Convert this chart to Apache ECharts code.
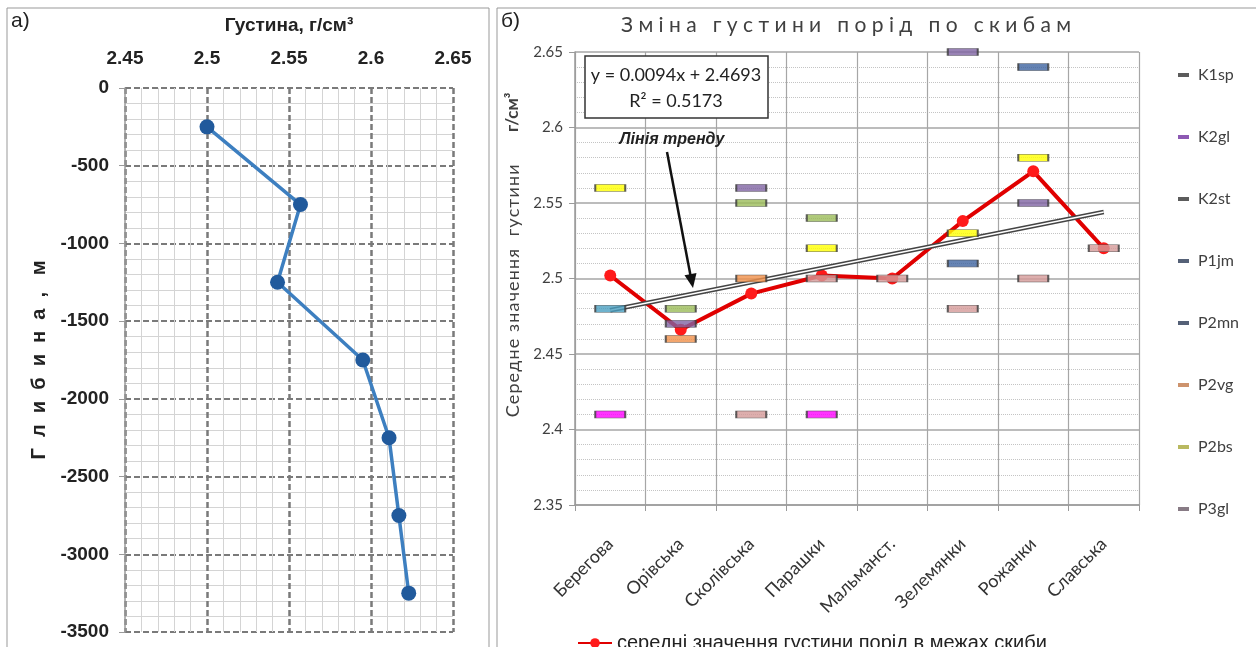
<!DOCTYPE html>
<html><head><meta charset="utf-8">
<script src="https://cdn.jsdelivr.net/npm/echarts@6/dist/echarts.min.js"></script>
<style>html,body{margin:0;padding:0;background:#fff}#c{width:1256px;height:647px}</style>
</head><body><div id="c"></div>
<script>
// ---- panel a) : density vs depth ----
const depths = [-250, -750, -1250, -1750, -2250, -2750, -3250];
const densities = [2.5, 2.557, 2.543, 2.595, 2.611, 2.617, 2.623];

// ---- panel b) : density by skyba ----
const categories = ['Берегова','Орівська','Сколівська','Парашки','Мальманст.','Зелемянки','Рожанки','Славська'];
const formationNames = ['K1sp','K2gl','K2st','P1jm','P2mn','P2vg','P2bs','P3gl'];
const K1sp = [2.41, '-', '-', 2.41, '-', '-', '-', '-'];
const K2gl = ['-', 2.47, 2.56, '-', '-', 2.65, 2.55, '-'];
const K2st = ['-', 2.48, 2.55, 2.54, '-', '-', '-', '-'];
const P1jm = ['-', '-', '-', '-', '-', 2.51, 2.64, '-'];
const P2mn = [2.48, '-', '-', '-', '-', '-', '-', '-'];
const P2vg = ['-', 2.46, 2.50, '-', '-', '-', '-', '-'];
const P2bs = [2.56, '-', '-', 2.52, '-', 2.53, 2.58, '-'];
const P3gl = ['-', '-', 2.41, 2.50, 2.50, 2.48, 2.50, 2.52];
const meanDensity = [2.502, 2.466, 2.49, 2.502, 2.50, 2.538, 2.571, 2.52];
const trendStart = 2.479, trendEnd = 2.544;
const meanName = 'середні значення густини порід в межах скиби';

const formationData = [K1sp, K2gl, K2st, P1jm, P2mn, P2vg, P2bs, P3gl];
const formationFill = ['#ff00ff','#8064a2','#9bbb59','#3f64a0','#4a9fc0','#f0904a','#ffff00','#d49a98'];
const legendIcon = ['#333333','#7030a0','#333333','#2a3a55','#2a3a55','#c07848','#a8a838','#6a5a66'];

const spaced = s => s.split('').join('\u200A');

const chart = echarts.init(document.getElementById('c'));
const sans = 'Liberation Sans';
const cal = 'Lato';

const series = [
  {
    name: 'depth', type: 'line', xAxisIndex: 0, yAxisIndex: 0,
    data: densities.map((d, i) => [d, depths[i]]),
    lineStyle: { color: '#3d7fc0', width: 3.5 },
    itemStyle: { color: '#215a9c' },
    symbol: 'circle', symbolSize: 15, z: 5
  },
  {
    name: meanName, type: 'line', xAxisIndex: 1, yAxisIndex: 1,
    data: meanDensity,
    lineStyle: { color: '#e00000', width: 4 },
    itemStyle: { color: '#ff1a1a' },
    symbol: 'circle', symbolSize: 12, z: 3
  },
  {
    name: 'trendOuter', type: 'line', xAxisIndex: 1, yAxisIndex: 1,
    data: [[0, trendStart], [7, trendEnd]],
    lineStyle: { color: '#444', width: 4.5 }, symbol: 'none', z: 4, silent: true
  },
  {
    name: 'trendInner', type: 'line', xAxisIndex: 1, yAxisIndex: 1,
    data: [[0, trendStart], [7, trendEnd]],
    lineStyle: { color: '#fff', width: 1.6 }, symbol: 'none', z: 4, silent: true
  }
];
formationNames.forEach((n, i) => {
  series.push({
    name: n, type: 'scatter', xAxisIndex: 1, yAxisIndex: 1,
    data: formationData[i],
    symbol: 'rect', symbolSize: [30, 7],
    itemStyle: { color: formationFill[i], borderColor: '#3a3a3a', borderWidth: 1 },
    z: 6
  });
});

chart.setOption({
  animation: false,
  grid: [
    { left: 125, top: 88, width: 328, height: 544 },
    { left: 575, top: 52, width: 564, height: 453 }
  ],
  xAxis: [
    {
      gridIndex: 0, type: 'value', position: 'top', min: 2.45, max: 2.65, interval: 0.05,
      name: 'Густина, г/см³', nameLocation: 'middle', nameGap: 53,
      nameTextStyle: { fontFamily: sans, fontWeight: 'bold', fontSize: 19, color: '#222' },
      axisLine: { show: false }, axisTick: { show: false },
      axisLabel: { fontFamily: sans, fontWeight: 'bold', fontSize: 19, color: '#222', margin: 20 },
      splitLine: { show: true, lineStyle: { color: '#7a7a7a', type: [6, 3], width: 2.5 } },
      minorTick: { show: false, splitNumber: 5 },
      minorSplitLine: { show: true, lineStyle: { color: '#d4d4d4', width: 1 } }
    },
    {
      gridIndex: 1, type: 'category', data: categories, boundaryGap: true,
      axisLine: { lineStyle: { color: '#9a9a9a', width: 1.5 } },
      axisTick: { show: true, length: 6, lineStyle: { color: '#9a9a9a' } },
      axisLabel: { rotate: 45, fontFamily: cal, fontSize: 18, color: '#333', margin: 36, interval: 0 },
      splitLine: { show: true, interval: 0, lineStyle: { color: '#a6a6a6', width: 1.2 } }
    }
  ],
  yAxis: [
    {
      gridIndex: 0, type: 'value', min: -3500, max: 0, interval: 500,
      name: 'Г  л  и  б  и  н  а  ,   м', nameLocation: 'middle', nameGap: 76, nameRotate: 90,
      nameTextStyle: { fontFamily: sans, fontWeight: 'bold', fontSize: 20, color: '#222' },
      axisLine: { show: true, lineStyle: { color: '#9a9a9a', width: 1.5 } },
      axisTick: { show: true, length: 6, lineStyle: { color: '#9a9a9a' } },
      axisLabel: { fontFamily: sans, fontWeight: 'bold', fontSize: 19, color: '#222', margin: 16,
        formatter: v => String(v) },
      splitLine: { show: true, lineStyle: { color: '#7a7a7a', type: [6, 3], width: 2 } },
      minorTick: { show: false, splitNumber: 5 },
      minorSplitLine: { show: true, lineStyle: { color: '#d4d4d4', width: 1 } }
    },
    {
      gridIndex: 1, type: 'value', min: 2.35, max: 2.65, interval: 0.05,
      axisLine: { show: true, lineStyle: { color: '#9a9a9a', width: 1.5 } },
      axisTick: { show: true, length: 6, lineStyle: { color: '#9a9a9a' } },
      axisLabel: { fontFamily: cal, fontSize: 15, color: '#404040', margin: 12 },
      splitLine: { show: true, lineStyle: { color: '#a6a6a6', width: 1.5 } },
      minorTick: { show: false, splitNumber: 5 },
      minorSplitLine: { show: true, lineStyle: { color: '#c4c4c4', type: 'dotted', width: 1 } }
    }
  ],
  legend: [
    {
      orient: 'vertical', left: 1173, top: 62, itemGap: 46, itemWidth: 11, itemHeight: 4,
      icon: 'rect',
      textStyle: { fontFamily: cal, fontSize: 16, color: '#404040', padding: [0, 0, 0, 4] },
      data: formationNames.map((n, i) => ({ name: n, itemStyle: { color: legendIcon[i], borderWidth: 0 } }))
    },
    {
      left: 572, top: 628, itemWidth: 34, itemHeight: 12,
      textStyle: { fontFamily: sans, fontSize: 20, color: '#222' },
      data: [meanName]
    }
  ],
  graphic: [
    { type: 'rect', shape: { x: 7, y: 8, width: 482, height: 645 }, style: { fill: 'none', stroke: '#999', lineWidth: 1 }, z: 100 },
    { type: 'rect', shape: { x: 497, y: 8, width: 762, height: 645 }, style: { fill: 'none', stroke: '#999', lineWidth: 1 }, z: 100 },
    { type: 'text', x: 11, y: 11, style: { text: 'а)', font: '21px "Liberation Sans"', fill: '#222' }, z: 100 },
    { type: 'text', x: 501, y: 11, style: { text: 'б)', font: '21px "Liberation Sans"', fill: '#222' }, z: 100 },
    { type: 'text', x: 846, y: 25, style: { text: 'З м і н а   г у с т и н и   п о р і д   п о   с к и б а м', font: '21px "Lato"', fill: '#404040', textAlign: 'center', textVerticalAlign: 'middle' }, z: 100 },
    { type: 'text', x: 513, y: 255, rotation: Math.PI / 2,
      style: { text: spaced('Середне значення  густини') + '       {b|г/см³}', font: '18px "Lato"', fill: '#404040', textAlign: 'center', textVerticalAlign: 'middle',
        rich: { b: { fontWeight: 'bold', fontSize: 17, fontFamily: 'Lato', fill: '#404040' } } }, z: 100 },
    { type: 'rect', shape: { x: 585, y: 56, width: 183, height: 62 }, style: { fill: '#fff', stroke: '#333', lineWidth: 1.5 }, z: 90 },
    { type: 'text', x: 676, y: 75, style: { text: 'y = 0.0094x + 2.4693', font: '18px "Lato"', fill: '#222', textAlign: 'center', textVerticalAlign: 'middle' }, z: 100 },
    { type: 'text', x: 676, y: 101, style: { text: 'R² = 0.5173', font: '18px "Lato"', fill: '#222', textAlign: 'center', textVerticalAlign: 'middle' }, z: 100 },
    { type: 'text', x: 672, y: 140, style: { text: 'Лінія тренду', font: 'italic bold 16px "Liberation Sans"', fill: '#222', textAlign: 'center', textVerticalAlign: 'middle' }, z: 100 },
    { type: 'line', shape: { x1: 667, y1: 152, x2: 690.6, y2: 276 }, style: { stroke: '#111', lineWidth: 2.5 }, z: 100 },
    { type: 'polygon', shape: { points: [[693, 288], [696.5, 273], [684.5, 275.3]] }, style: { fill: '#111' }, z: 100 }
  ],
  series: series
});
</script></body></html>
